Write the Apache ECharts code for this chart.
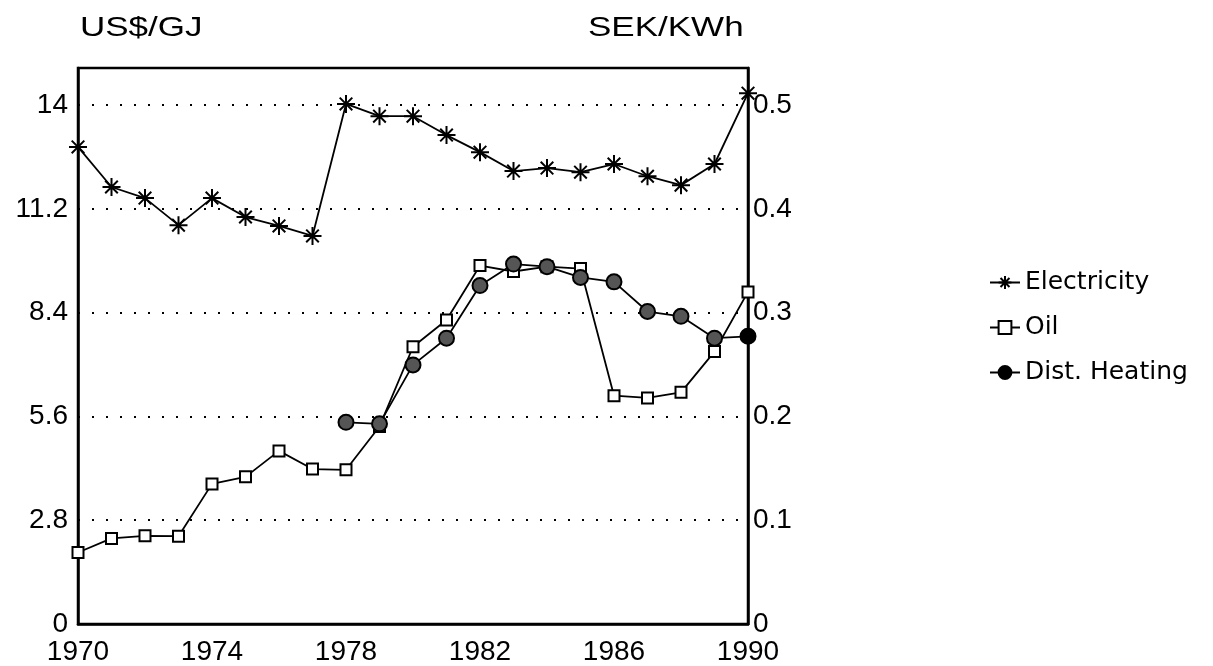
<!DOCTYPE html>
<html>
<head>
<meta charset="utf-8">
<script src="https://cdn.jsdelivr.net/npm/echarts@6/dist/echarts.min.js"></script>
<style>
  html, body { margin: 0; padding: 0; background: #fff; }
  #chart { width: 1213px; height: 666px; }
</style>
</head>
<body>
<div id="chart"></div>
<script>
var years = [1970, 1971, 1972, 1973, 1974, 1975, 1976, 1977, 1978, 1979, 1980,
             1981, 1982, 1983, 1984, 1985, 1986, 1987, 1988, 1989, 1990];
var electricity = [12.87, 11.79, 11.49, 10.76, 11.49, 10.98, 10.74, 10.47, 14.03, 13.70, 13.70,
                   13.19, 12.73, 12.22, 12.30, 12.19, 12.41, 12.08, 11.84, 12.41, 14.32];
var oil = [1.93, 2.31, 2.38, 2.37, 3.78, 3.97, 4.67, 4.18, 4.16, 5.33, 7.48,
           8.20, 9.67, 9.51, 9.64, 9.59, 6.16, 6.10, 6.25, 7.35, 8.96];
var distYears = [1978, 1979, 1980, 1981, 1982, 1983, 1984, 1985, 1986, 1987, 1988, 1989, 1990];
var distHeating = [5.44, 5.40, 6.99, 7.71, 9.13, 9.71, 9.64, 9.35, 9.23, 8.43, 8.30, 7.71, 7.76];

var leftTicks = { min: 0, max: 15, interval: 2.8 };
var rightTicks = { min: 0, max: 15 / 28, interval: 0.1 };

var font = 'Liberation Sans, Arial, sans-serif';

function pairs(xs, ys) {
  return xs.map(function (x, i) { return [x, ys[i]]; });
}

var chartDom = document.getElementById('chart');
var myChart = echarts.init(chartDom);
var option;

// eight-armed star used for the electricity points
var asterisk = 'path://M0,-10L0,10M-10,0L10,0M-7,-7L7,7M-7,7L7,-7';

var dotted = { show: true, lineStyle: { color: '#000', width: 2, type: [2, 12] } };

option = {
  backgroundColor: '#fff',
  animation: false,
  textStyle: { fontFamily: font, color: '#000' },
  grid: { left: 78, right: 465, top: 68, bottom: 41, show: true, borderColor: '#000', borderWidth: 2.5 },
  legend: {
    orient: 'vertical',
    left: 984,
    top: 265,
    itemGap: 20,
    itemWidth: 30,
    itemHeight: 16,
    textStyle: { fontFamily: 'DejaVu Sans', fontSize: 25, color: '#000' },
    data: ['Electricity', 'Oil', { name: 'Dist. Heating', itemStyle: { color: '#000' } }]
  },
  graphic: [
    { type: 'text', left: 80, top: 14, scaleX: 1.25,
      style: { text: 'US$/GJ', font: '28px ' + font, fill: '#000' } },
    { type: 'text', left: 588, top: 14, scaleX: 1.25,
      style: { text: 'SEK/KWh', font: '28px ' + font, fill: '#000' } }
  ],
  xAxis: {
    type: 'value',
    min: 1970, max: 1990, interval: 4,
    axisLine: { lineStyle: { color: '#000', width: 2.5 } },
    axisTick: { show: false },
    splitLine: { show: false },
    axisLabel: { color: '#000', fontSize: 28, margin: 14, formatter: function (v) { return String(v); } }
  },
  yAxis: [
    {
      type: 'value',
      min: leftTicks.min, max: leftTicks.max, interval: leftTicks.interval,
      axisLine: { show: true, lineStyle: { color: '#000', width: 2.5 } },
      axisTick: { show: false },
      splitLine: dotted,
      axisLabel: {
        color: '#000', fontSize: 28, margin: 10, showMaxLabel: false,
        formatter: function (v) { return String(+v.toFixed(1)); }
      }
    },
    {
      type: 'value',
      min: rightTicks.min, max: rightTicks.max, interval: rightTicks.interval,
      axisLine: { show: true, lineStyle: { color: '#000', width: 2.5 } },
      axisTick: { show: false },
      splitLine: { show: false },
      axisLabel: {
        color: '#000', fontSize: 28, margin: 5, showMaxLabel: false,
        formatter: function (v) { return v === 0 ? '0' : v.toFixed(1); }
      }
    }
  ],
  series: [
    {
      name: 'Electricity',
      type: 'line',
      data: pairs(years, electricity),
      symbol: asterisk,
      symbolSize: 18,
      lineStyle: { color: '#000', width: 1.8 },
      itemStyle: { color: 'none', borderColor: '#000', borderWidth: 2 }
    },
    {
      name: 'Oil',
      type: 'line',
      data: pairs(years, oil),
      symbol: 'rect',
      symbolSize: 11,
      lineStyle: { color: '#000', width: 1.8 },
      itemStyle: { color: '#fff', borderColor: '#000', borderWidth: 2 }
    },
    {
      name: 'Dist. Heating',
      type: 'line',
      data: pairs(distYears, distHeating).map(function (p, i, arr) {
        return i === arr.length - 1 ? { value: p, itemStyle: { color: '#000' } } : p;
      }),
      symbol: 'circle',
      symbolSize: 15,
      lineStyle: { color: '#000', width: 1.8 },
      itemStyle: { color: '#555', borderColor: '#000', borderWidth: 2 }
    }
  ]
};

option && myChart.setOption(option);
</script>
</body>
</html>
